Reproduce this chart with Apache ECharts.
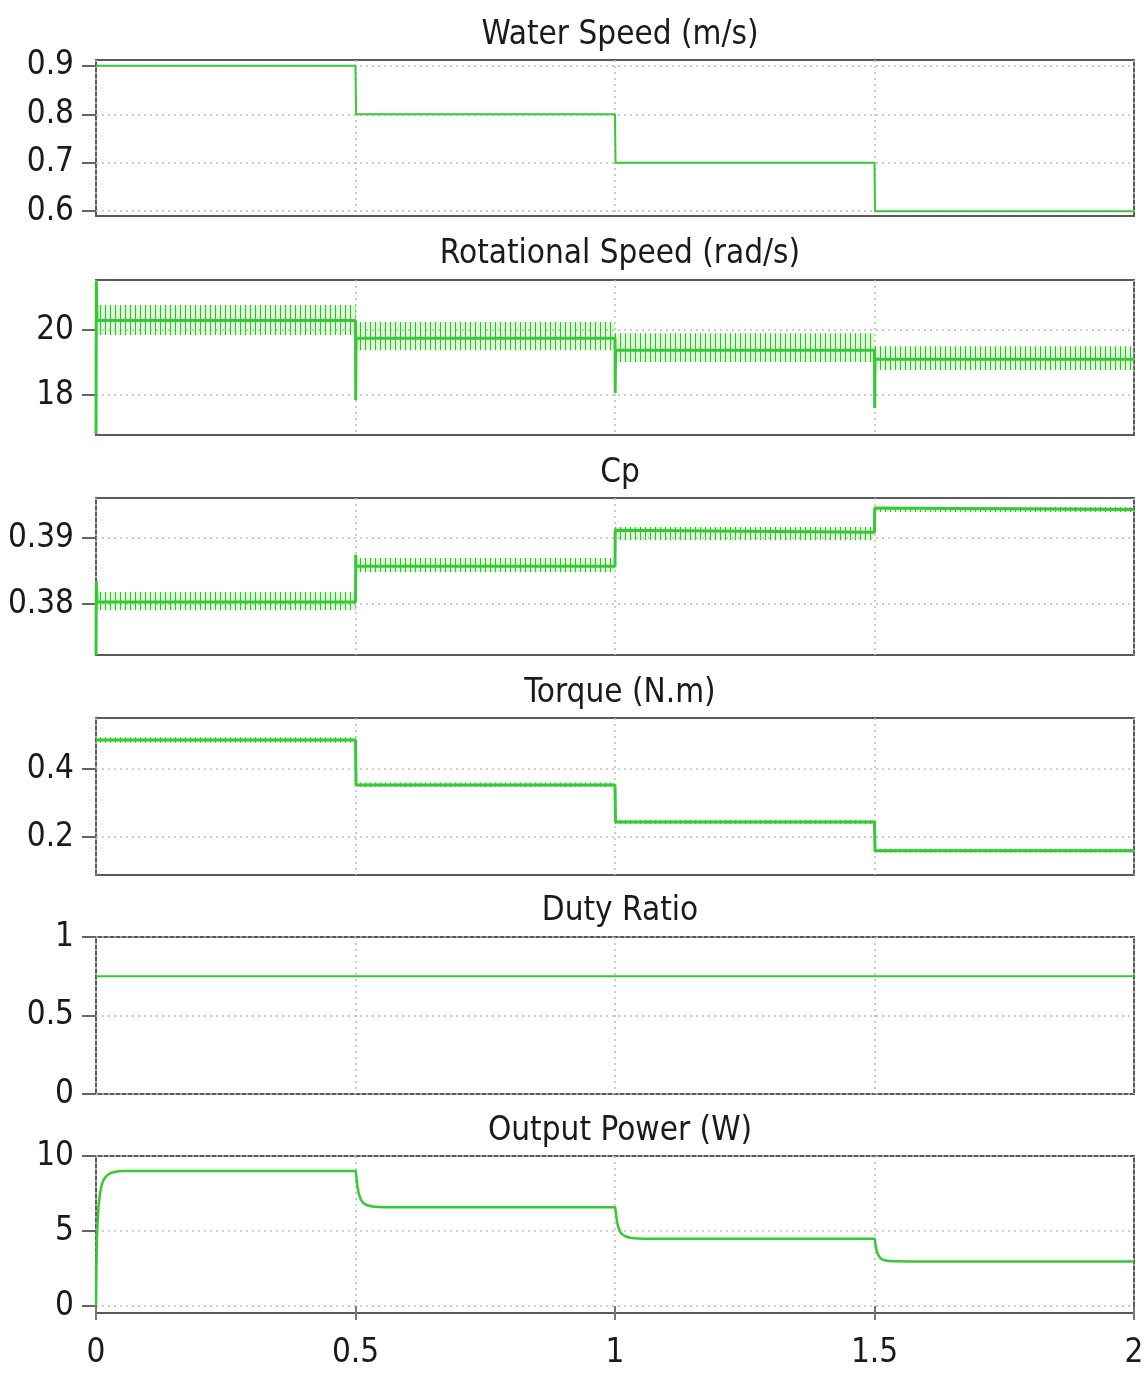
<!DOCTYPE html>
<html><head><meta charset="utf-8">
<script src="https://cdn.jsdelivr.net/npm/echarts@6/dist/echarts.min.js"></script>
<style>html,body{margin:0;padding:0;background:#fff}#c{width:1147px;height:1373px}</style>
</head><body><div id="c"></div>
<script>
// ---------- data ----------
const segT = [0, 0.5, 1, 1.5, 2];
const xTicks = [0, 0.5, 1, 1.5, 2];

const titles = ['Water Speed (m/s)', 'Rotational Speed (rad/s)', 'Cp', 'Torque (N.m)', 'Duty Ratio', 'Output Power (W)'];

const waterSpeed = [0.9, 0.8, 0.7, 0.6];
const waterTicks = [0.6, 0.7, 0.8, 0.9];

const rotMean = [20.29, 19.75, 19.38, 19.1];
const rotLo = [19.85, 19.38, 19.02, 18.77];
const rotHi = [20.77, 20.25, 19.9, 19.5];
const rotStep = [17.85, 18.06, 17.6];      // transient at 0.5, 1, 1.5
const rotStart = [16.8, 21.5];
const rotTicks = [18, 20];

const cpMean = [0.38035, 0.38576, 0.3909, 0.39435];
const cpLo = [0.3791, 0.38485, 0.3897, 0.39398];
const cpHi = [0.38186, 0.3870, 0.3917, 0.39474];
const cpStep = [0.3875, 0.3912, 0.3946];
const cpStart = [0.3723, 0.3835];
const cpTicks = [0.38, 0.39];

const torqueMean = [0.485, 0.353, 0.244, 0.159];
const torqueLo = [0.477, 0.347, 0.238, 0.154];
const torqueHi = [0.493, 0.360, 0.250, 0.165];
const torqueTicks = [0.2, 0.4];

const dutyT = [0, 2];
const duty = [0.75, 0.75];
const dutyTicks = [0, 0.5, 1];

const powerT = [0, 0.001, 0.002, 0.004, 0.007, 0.01, 0.014, 0.02, 0.028, 0.038, 0.05, 0.07, 0.5,
  0.501, 0.504, 0.508, 0.513, 0.52, 0.53, 0.545, 0.565, 1.0,
  1.001, 1.004, 1.008, 1.013, 1.02, 1.03, 1.045, 1.065, 1.5,
  1.501, 1.504, 1.508, 1.513, 1.52, 1.53, 1.545, 1.565, 2.0];
const powerW = [0, 2.8, 4.6, 6.2, 7.3, 7.9, 8.35, 8.65, 8.85, 8.95, 9.0, 9.0, 9.0,
  8.8, 7.9, 7.3, 6.95, 6.75, 6.65, 6.6, 6.58, 6.58,
  6.4, 5.6, 5.1, 4.8, 4.65, 4.55, 4.5, 4.48, 4.48,
  4.3, 3.7, 3.35, 3.15, 3.05, 3.0, 2.98, 2.97, 2.97];
const powerTicks = [0, 5, 10];

// y ranges of each panel
const yMin = [0.59, 16.77, 0.3723, 0.088, 0, -0.47];
const yMax = [0.912, 21.54, 0.3961, 0.55, 1, 10];
const yTicks = [waterTicks, rotTicks, cpTicks, torqueTicks, dutyTicks, powerTicks];

// ---------- layout ----------
const gridTop = [60, 280, 498, 718, 937, 1156];
const gridH = [156, 155, 157, 157, 157, 157];
const titleTop = [14, 233, 452, 672, 890, 1110];
const GREEN = '#36c936';
const FONT = '"DejaVu Sans Condensed", "Liberation Sans", sans-serif';

// hatch pattern for ripple bands
const pc = document.createElement('canvas');
pc.width = 5; pc.height = 4;
const g = pc.getContext('2d');
g.fillStyle = 'rgba(150,235,130,0.3)'; g.fillRect(0, 0, 5, 4);
g.fillStyle = 'rgba(30,195,30,0.95)'; g.fillRect(0, 0, 1, 4);
const hatch = { image: pc, repeat: 'repeat' };

function stepPts(vals, steps, start) {
  const pts = [];
  if (start) { pts.push([segT[0], start[0]]); pts.push([segT[0] + 0.0006, start[1]]); pts.push([segT[0] + 0.002, vals[0]]); }
  else pts.push([segT[0], vals[0]]);
  for (let i = 0; i < vals.length; i++) {
    pts.push([segT[i + 1], vals[i]]);
    if (i < vals.length - 1) {
      if (steps) pts.push([segT[i + 1] + 0.0004, steps[i]]);
      pts.push([segT[i + 1] + 0.001, vals[i + 1]]);
    }
  }
  return pts;
}
function bandData(lo, hi) {
  return lo.map((l, i) => [segT[i], segT[i + 1], l, hi[i]]);
}
function bandSeries(idx, lo, hi) {
  return {
    type: 'custom', xAxisIndex: idx, yAxisIndex: idx, silent: true, z: 2,
    data: bandData(lo, hi),
    encode: { x: [0, 1], y: [2, 3] },
    renderItem(params, api) {
      const p0 = api.coord([api.value(0), api.value(3)]);
      const p1 = api.coord([api.value(1), api.value(2)]);
      return { type: 'rect', shape: { x: p0[0], y: p0[1], width: p1[0] - p0[0], height: p1[1] - p0[1] }, style: { fill: hatch } };
    }
  };
}
function lineSeries(idx, data, w) {
  return { type: 'line', xAxisIndex: idx, yAxisIndex: idx, data, showSymbol: false, symbol: 'none',
    lineStyle: { color: GREEN, width: w || 2 }, z: 3, animation: false };
}

const grids = [], xAxes = [], yAxes = [], titleArr = [];
for (let i = 0; i < 6; i++) {
  grids.push({ left: 96, width: 1038, top: gridTop[i], height: gridH[i], show: true,
    borderColor: '#5a5a5a', borderWidth: 2, backgroundColor: '#fff' });
  const last = i === 5;
  xAxes.push({ type: 'value', gridIndex: i, min: 0, max: 2, interval: 0.5,
    axisLine: { show: false },
    axisTick: { show: last, length: 14, lineStyle: { color: '#777', width: 2 }, customValues: xTicks },
    axisLabel: { show: last, fontSize: 33, fontFamily: FONT, color: '#1a1a1a', margin: 24, customValues: xTicks },
    splitLine: { show: true, lineStyle: { color: '#bdbdbd', type: [2, 4], width: 1.5 } } });
  yAxes.push({ type: 'value', gridIndex: i, min: yMin[i], max: yMax[i],
    axisLine: { show: false },
    axisTick: { show: true, length: 14, lineStyle: { color: '#666', width: 2 }, customValues: yTicks[i] },
    axisLabel: { show: true, fontSize: 33, fontFamily: FONT, color: '#1a1a1a', margin: 22, customValues: yTicks[i] },
    splitLine: { show: true, lineStyle: { color: '#bdbdbd', type: [2, 4], width: 1.5 } } });
  titleArr.push({ text: titles[i], left: 615, textAlign: 'center', top: titleTop[i],
    textStyle: { fontSize: 33, fontWeight: 'normal', fontFamily: FONT, color: '#1a1a1a' } });
}

const series = [
  lineSeries(0, stepPts(waterSpeed, null, null)),
  bandSeries(1, rotLo, rotHi),
  lineSeries(1, stepPts(rotMean, rotStep, rotStart), 3),
  bandSeries(2, cpLo, cpHi),
  lineSeries(2, stepPts(cpMean, cpStep, cpStart), 3),
  bandSeries(3, torqueLo, torqueHi),
  lineSeries(3, stepPts(torqueMean, null, null), 3),
  lineSeries(4, dutyT.map((t, k) => [t, duty[k]])),
  Object.assign(lineSeries(5, powerT.map((t, k) => [t, powerW[k]]), 2.5), { smooth: 0.3 })
];

const chart = echarts.init(document.getElementById('c'), null, { renderer: 'canvas' });
chart.setOption({ animation: false, backgroundColor: '#fff', title: titleArr, grid: grids, xAxis: xAxes, yAxis: yAxes, series });
</script></body></html>
